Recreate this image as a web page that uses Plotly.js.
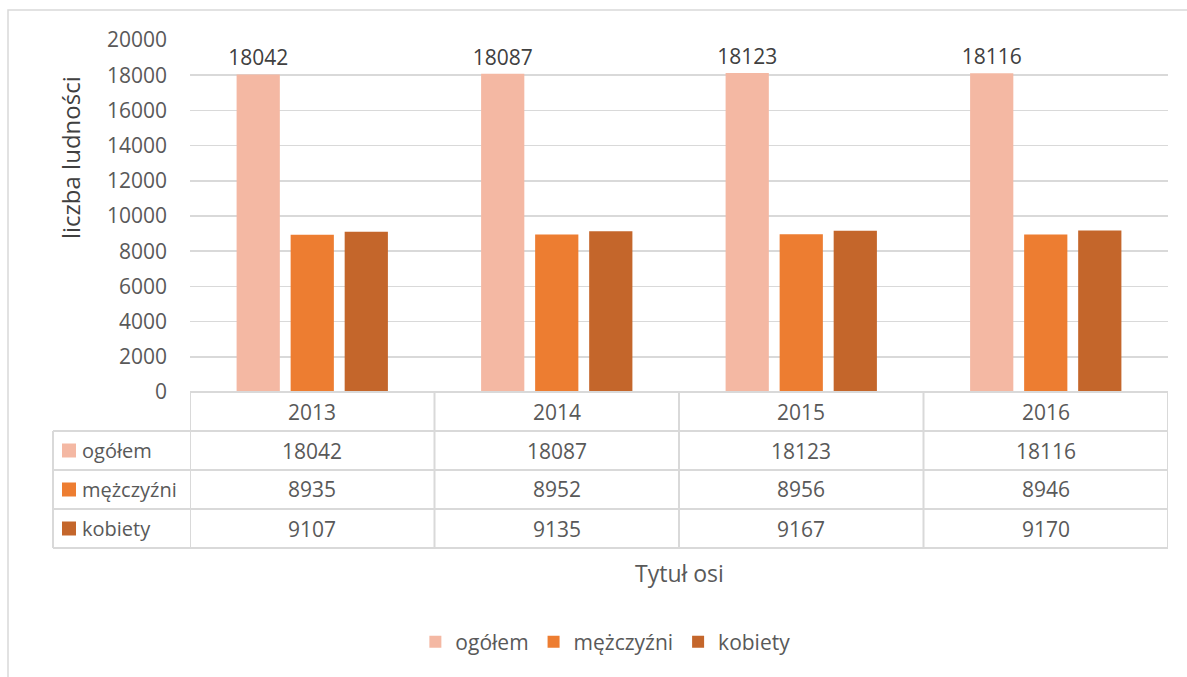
<!DOCTYPE html>
<html>
<head>
<meta charset="utf-8">
<script src="https://cdn.plot.ly/plotly-3.0.1.min.js"></script>
<style>html,body{margin:0;padding:0;background:#fff;}#chart{width:1187px;height:677px;}</style>
</head>
<body>
<div id="chart"></div>
<script>
var categories = ['2013', '2014', '2015', '2016'];
var seriesNames = ['ogółem', 'mężczyźni', 'kobiety'];
var ogolem = [18042, 18087, 18123, 18116];
var mezczyzni = [8935, 8952, 8956, 8946];
var kobiety = [9107, 9135, 9167, 9170];
var tickValues = [0, 2000, 4000, 6000, 8000, 10000, 12000, 14000, 16000, 18000, 20000];
var colors = ['#f4b8a3', '#ed7d31', '#c4662b'];
var seriesValues = [ogolem, mezczyzni, kobiety];

var FONT = '"Open Sans", "Noto Sans", sans-serif';
var TXT = '#595959';
var GRID = '#d9d9d9';
var FS = 21;

// pixel geometry helpers (plot area: x 190..1168, y 40..392)
var L = 190, R = 1168, T = 40, B = 392;
var W = R - L, H = B - T;
function py(p) { return (B - p) / H; }
function px(p) { return (p - L) / W; }

var traces = seriesValues.map(function (vals, i) {
  var t = {
    type: 'bar',
    name: seriesNames[i],
    x: categories,
    y: vals,
    marker: { color: colors[i] },
    hoverinfo: 'x+y+name',
    cliponaxis: false
  };
  if (i === 0) {
    t.text = vals.map(String);
    t.textposition = 'outside';
    t.constraintext = 'none';
    t.textfont = { family: FONT, size: FS, color: '#404040' };
  } else {
    t.textposition = 'none';
  }
  return t;
});

var rowEdges = [392, 431, 470, 509, 548];
var shapes = [];
var lineStyle = { color: GRID, width: 2 };
// outer chart frame
shapes.push({ type: 'rect', xref: 'paper', yref: 'paper', x0: px(8), x1: px(1200), y0: py(10), y1: py(700), line: { color: GRID, width: 1.5 }, fillcolor: 'rgba(0,0,0,0)', layer: 'below' });
// table horizontal lines
shapes.push({ type: 'line', xref: 'x', yref: 'paper', x0: -0.5, x1: categories.length - 0.5, y0: py(rowEdges[0]), y1: py(rowEdges[0]), line: lineStyle });
for (var r = 1; r < rowEdges.length; r++) {
  shapes.push({ type: 'line', xref: 'paper', yref: 'paper', x0: px(53), x1: 1, y0: py(rowEdges[r]), y1: py(rowEdges[r]), line: lineStyle });
}
// table vertical lines
shapes.push({ type: 'line', xref: 'paper', yref: 'paper', x0: px(53), x1: px(53), y0: py(rowEdges[1]), y1: py(rowEdges[4]), line: lineStyle });
for (var c = 0; c <= categories.length; c++) {
  shapes.push({ type: 'line', xref: 'x', yref: 'paper', x0: c - 0.5, x1: c - 0.5, y0: py(rowEdges[0]), y1: py(rowEdges[4]), line: lineStyle });
}
// legend swatches in table
for (var s = 0; s < seriesNames.length; s++) {
  var cy = (rowEdges[s + 1] + rowEdges[s + 2]) / 2;
  shapes.push({ type: 'rect', xref: 'paper', yref: 'paper', x0: px(62), x1: px(76), y0: py(cy - 7), y1: py(cy + 7), fillcolor: colors[s], line: { width: 0 } });
}

var annotations = [];
// header (years)
categories.forEach(function (cat, k) {
  annotations.push({ xref: 'x', yref: 'paper', x: k, y: py((rowEdges[0] + rowEdges[1]) / 2), text: cat, showarrow: false, font: { family: FONT, size: FS, color: TXT }, xanchor: 'center', yanchor: 'middle' });
});
// table values
seriesValues.forEach(function (vals, s) {
  var cy = (rowEdges[s + 1] + rowEdges[s + 2]) / 2;
  annotations.push({ xref: 'paper', yref: 'paper', x: px(80), y: py(cy), text: seriesNames[s], showarrow: false, font: { family: FONT, size: FS - 1, color: TXT }, xanchor: 'left', yanchor: 'middle' });
  vals.forEach(function (v, k) {
    annotations.push({ xref: 'x', yref: 'paper', x: k, y: py(cy), text: String(v), showarrow: false, font: { family: FONT, size: FS, color: TXT }, xanchor: 'center', yanchor: 'middle' });
  });
});
// axis titles
annotations.push({ xref: 'paper', yref: 'paper', x: 0.5, y: py(573), text: 'Tytuł osi', showarrow: false, font: { family: FONT, size: FS + 2, color: TXT }, xanchor: 'center', yanchor: 'middle' });
annotations.push({ xref: 'paper', yref: 'paper', x: px(70), y: py(158), text: 'liczba ludności', textangle: -90, showarrow: false, font: { family: FONT, size: FS + 3, color: '#404040' }, xanchor: 'center', yanchor: 'middle' });

var layout = {
  width: 1187,
  height: 677,
  margin: { l: L, r: 1187 - R, t: T, b: 677 - B, pad: 0 },
  paper_bgcolor: '#ffffff',
  plot_bgcolor: '#ffffff',
  font: { family: FONT, size: FS, color: TXT },
  barmode: 'group',
  bargap: 0.337,
  bargroupgap: 0.2,
  showlegend: true,
  legend: {
    orientation: 'h',
    xref: 'container', yref: 'container',
    x: 0.51, xanchor: 'center',
    y: 1 - 642 / 677, yanchor: 'middle',
    font: { family: FONT, size: FS, color: TXT },
    itemclick: false, itemdoubleclick: false,
    itemwidth: 30,
    tracegroupgap: 0
  },
  xaxis: {
    type: 'category',
    range: [-0.5, categories.length - 0.5],
    showticklabels: false,
    showgrid: false,
    zeroline: false,
    showline: false,
    ticks: ''
  },
  yaxis: {
    range: [0, 20000],
    tickvals: tickValues,
    ticktext: tickValues.map(String),
    showgrid: true,
    gridcolor: GRID,
    gridwidth: 1.5,
    zeroline: false,
    showline: false,
    ticks: '',
    ticklabelstandoff: 22,
    tickfont: { family: FONT, size: FS, color: TXT }
  },
  shapes: shapes,
  annotations: annotations
};

Plotly.newPlot('chart', traces, layout, { displayModeBar: false, staticPlot: true });
</script>
</body>
</html>
